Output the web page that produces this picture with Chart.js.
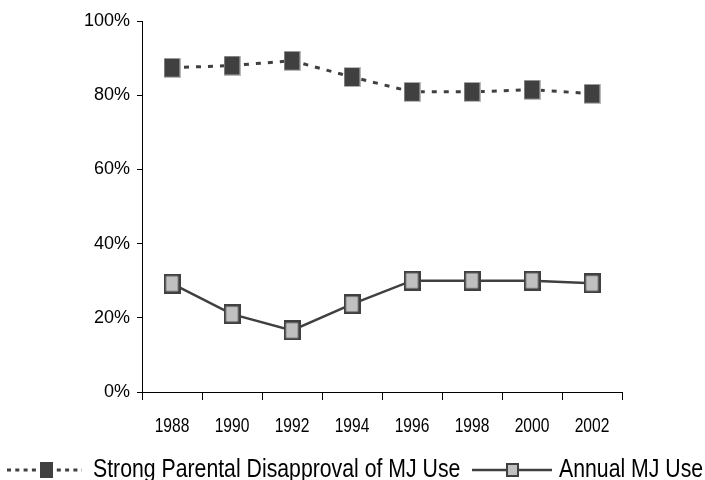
<!DOCTYPE html>
<html>
<head>
<meta charset="utf-8">
<script src="https://cdn.jsdelivr.net/npm/chart.js@4.4.0/dist/chart.umd.min.js"></script>
<style>
  html, body { margin: 0; padding: 0; background: #fff; }
  #wrap { width: 705px; height: 480px; }
</style>
</head>
<body>
<div id="wrap"><canvas id="mj-chart" width="705" height="480"></canvas></div>
<script>
const years = ['1988', '1990', '1992', '1994', '1996', '1998', '2000', '2002'];
const disapproval = [87.4, 88.0, 89.3, 84.9, 80.9, 80.9, 81.5, 80.4];
const annualUse = [29.2, 21.0, 16.6, 23.7, 30.0, 30.0, 30.0, 29.3];
const yTicks = [0, 20, 40, 60, 80, 100];

const dark = '#404040';
const light = '#c0c0c0';
const fontFamily = '"Liberation Sans", Arial, sans-serif';

function makeMarker(w, h, fill, stroke, lw) {
    const c = document.createElement('canvas');
    c.width = w;
    c.height = h;
    const g = c.getContext('2d');
    g.fillStyle = stroke;
    g.fillRect(0, 0, w, h);
    g.fillStyle = fill;
    g.fillRect(lw, lw, w - 2 * lw, h - 2 * lw);
    return c;
}

const darkMarker = makeMarker(17, 20, dark, '#b8b8b8', 1);
const lightMarker = makeMarker(17, 20, light, dark, 2.5);

// squeezed text, the original uses a narrow face
function narrowText(c, text, x, y, size, k, align) {
    c.save();
    c.font = size + 'px ' + fontFamily;
    c.translate(x, y);
    c.scale(k, 1);
    c.textAlign = align;
    c.textBaseline = 'alphabetic';
    c.fillStyle = '#000';
    c.fillText(text, 0, 0);
    c.restore();
}

// x labels and legend drawn by hand
const narrowLabels = {
    id: 'narrowLabels',
    afterDraw(chart) {
        const c = chart.ctx;
        const xs = chart.scales.x;
        chart.data.labels.forEach((lab, i) => {
            narrowText(c, lab, xs.getPixelForTick(i), 432, 20, 0.78, 'center');
        });

        const ds = chart.data.datasets;
        c.save();
        // dotted sample
        c.strokeStyle = dark;
        c.lineWidth = 3;
        c.setLineDash([4, 4.3]);
        c.beginPath();
        c.moveTo(7, 470);
        c.lineTo(82, 470);
        c.stroke();
        c.setLineDash([]);
        c.fillStyle = dark;
        c.fillRect(40, 462, 13, 16);

        // solid sample
        c.lineWidth = 2.5;
        c.beginPath();
        c.moveTo(472, 470);
        c.lineTo(552, 470);
        c.stroke();
        c.fillStyle = dark;
        c.fillRect(506, 463, 13, 14);
        c.fillStyle = light;
        c.fillRect(508, 465, 9, 10);
        c.restore();

        narrowText(c, ds[0].label, 93, 477, 25, 0.85, 'left');
        narrowText(c, ds[1].label, 559, 477, 25, 0.85, 'left');
    }
};

var ctx = document.getElementById('mj-chart').getContext('2d');
var mjChart = new Chart(ctx, {
    type: 'line',
    data: {
        labels: years,
        datasets: [
            {
                label: 'Strong Parental Disapproval of MJ Use',
                data: disapproval,
                borderColor: dark,
                borderWidth: 3,
                borderDash: [5, 7],
                pointStyle: darkMarker,
                tension: 0,
                fill: false
            },
            {
                label: 'Annual MJ Use',
                data: annualUse,
                borderColor: dark,
                borderWidth: 2.5,
                pointStyle: lightMarker,
                tension: 0,
                fill: false
            }
        ]
    },
    options: {
        responsive: false,
        animation: false,
        layout: {
            padding: { left: 0, right: 83, top: 21, bottom: 0 }
        },
        plugins: {
            legend: { display: false },
            tooltip: { enabled: false }
        },
        scales: {
            x: {
                offset: true,
                grid: {
                    offset: true,
                    drawOnChartArea: false,
                    tickLength: 8,
                    color: '#000',
                    lineWidth: 1
                },
                border: { color: '#000', width: 1 },
                ticks: { display: false },
                afterFit(scale) { scale.height = 88; }
            },
            y: {
                min: 0,
                max: 100,
                afterBuildTicks(scale) { scale.ticks = yTicks.map(v => ({ value: v })); },
                grid: {
                    drawOnChartArea: false,
                    tickLength: 5,
                    color: '#000',
                    lineWidth: 1
                },
                border: { color: '#000', width: 1 },
                ticks: {
                    color: '#000',
                    padding: 7,
                    font: { family: fontFamily, size: 18 },
                    callback: (v) => v + '%'
                },
                afterFit(scale) { scale.width = 142; }
            }
        }
    },
    plugins: [narrowLabels]
});
</script>
</body>
</html>
